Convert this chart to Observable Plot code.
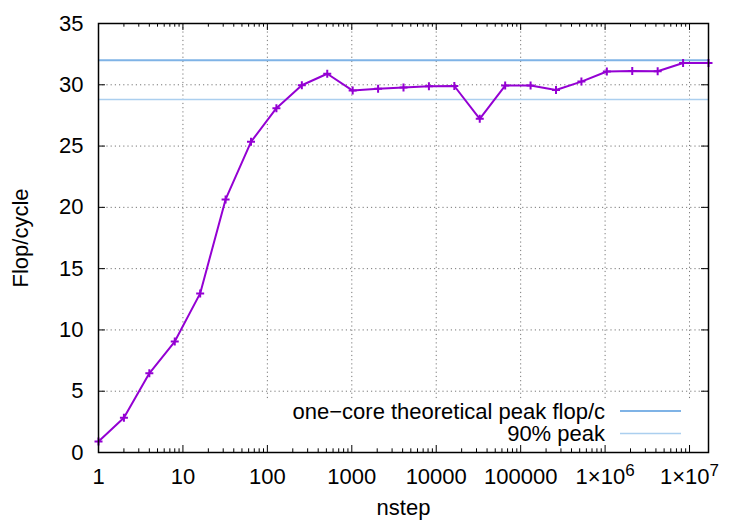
<!DOCTYPE html>
<html>
<head>
<meta charset="utf-8">
<script src="https://cdn.jsdelivr.net/npm/d3@7"></script>
<script src="https://cdn.jsdelivr.net/npm/@observablehq/plot@0.6"></script>
<style>
  html, body { margin: 0; padding: 0; background: #fff; }
  #chart svg { display: block; }
</style>
</head>
<body>
<div id="chart"></div>
<script>
// ---- data ----
const nstep = [1, 2, 4, 8, 16, 32, 64, 128, 256, 512, 1024, 2048, 4096, 8192, 16384, 32768,
  65536, 131072, 262144, 524288, 1048576, 2097152, 4194304, 8388608, 16777216];
const flops = [0.9, 2.83, 6.46, 9.05, 12.98, 20.65, 25.35, 28.09, 29.96, 30.9, 29.53, 29.67, 29.78,
  29.88, 29.9, 27.22, 29.94, 29.94, 29.58, 30.26, 31.08, 31.13, 31.1, 31.78, 31.78];
const peakValues = [32, 28.8];
const peakLabels = ["one\u2212core theoretical peak flop/c", "90% peak"];
const xTicks = [1, 10, 100, 1000, 10000, 100000, 1e6, 1e7];
const xTickLabels = ["1", "10", "100", "1000", "10000", "100000", "1\u00d710^6", "1\u00d710^7"];
const yTicks = [0, 5, 10, 15, 20, 25, 30, 35];
const xMinor = [];
for (let e = 0; e <= 7; e++) for (let m = 2; m <= 9; m++) { const v = m * 10 ** e; if (v <= 16777216) xMinor.push(v); }

const purple = "#9400d3";
const peakColors = ["#7fb3e6", "#abcfef"];
const peakWidths = [2, 1.5];
const font = "'Liberation Sans', Arial, Helvetica, sans-serif";
const fs = 22;

const data = nstep.map((x, i) => ({x, y: flops[i]}));
const xLabelMap = new Map(xTicks.map((t, i) => [t, xTickLabels[i]]));
const xMax = 16777216;
const tickFactor = 10 ** (7 / 84.6);

const plus = {
  draw(ctx, size) {
    const r = Math.sqrt(size / Math.PI);
    ctx.moveTo(-r, 0); ctx.lineTo(r, 0);
    ctx.moveTo(0, -r); ctx.lineTo(0, r);
  }
};

const chart = Plot.plot({
  width: 750,
  height: 525,
  marginLeft: 98,
  marginRight: 42,
  marginTop: 23,
  marginBottom: 73,
  style: {fontFamily: font, fontSize: fs + "px", color: "#000", background: "#fff"},
  x: {type: "log", domain: [1, xMax]},
  y: {domain: [0, 35]},
  marks: [
    // grid
    Plot.ruleY(yTicks.filter(d => d > 0 && d < 35), {stroke: "#777", strokeWidth: 1, strokeDasharray: "1.2,3"}),
    Plot.ruleX(xTicks.filter(d => d > 1), {y1: 4.4, y2: 35, stroke: "#777", strokeWidth: 1, strokeDasharray: "1.2,3"}),
    // ticks (inward, mirrored)
    Plot.ruleX(xTicks, {y1: 0, y2: 0.57, stroke: "#000", strokeWidth: 1}),
    Plot.ruleX(xTicks, {y1: 35, y2: 34.43, stroke: "#000", strokeWidth: 1}),
    Plot.ruleX(xMinor, {y1: 0, y2: 0.3, stroke: "#000", strokeWidth: 1}),
    Plot.ruleX(xMinor, {y1: 35, y2: 34.7, stroke: "#000", strokeWidth: 1}),
    Plot.ruleY(yTicks, {x1: 1, x2: tickFactor, stroke: "#000", strokeWidth: 1}),
    Plot.ruleY(yTicks, {x1: xMax / tickFactor, x2: xMax, stroke: "#000", strokeWidth: 1}),
    // peak lines
    Plot.ruleY(peakValues, {stroke: (d, i) => peakColors[i], strokeWidth: (d, i) => peakWidths[i]}),
    // data
    Plot.line(data, {x: "x", y: "y", stroke: purple, strokeWidth: 2}),
    Plot.dot(data, {x: "x", y: "y", symbol: plus, r: 4, stroke: purple, strokeWidth: 2, fill: "none"}),
    Plot.frame({stroke: "#000", strokeWidth: 1.5}),
    Plot.axisX({ticks: xTicks, tickSize: 0, tickPadding: 16, tickFormat: d => xLabelMap.get(d),
      label: "nstep", labelAnchor: "center", labelArrow: "none", labelOffset: 62, fontSize: fs}),
    Plot.axisY({ticks: yTicks, tickSize: 0, tickPadding: 15, tickFormat: d => String(d),
      label: "Flop/cycle", labelAnchor: "center", labelArrow: "none", labelOffset: 86, fontSize: fs})
  ]
});

document.getElementById("chart").appendChild(chart);

// superscripts in tick labels
d3.select(chart).selectAll("text").each(function() {
  const t = this.textContent;
  if (t.includes("^")) {
    const [base, exp] = t.split("^");
    const sel = d3.select(this);
    sel.text(null);
    sel.append("tspan").text(base);
    sel.append("tspan").attr("dy", "-0.5em").attr("font-size", "17px").text(exp);
  }
});

// legend (key)
const svg = d3.select(chart);
const key = svg.append("g").attr("font-family", font).attr("font-size", fs + "px");
peakLabels.forEach((lab, i) => {
  const yy = 411 + i * 22.5;
  key.append("text").attr("x", 605).attr("y", yy).attr("dy", "0.36em")
    .attr("text-anchor", "end").attr("fill", "#000").text(lab);
  key.append("line").attr("x1", 620).attr("x2", 681).attr("y1", yy).attr("y2", yy)
    .attr("stroke", peakColors[i]).attr("stroke-width", peakWidths[i]);
});
</script>
</body>
</html>
